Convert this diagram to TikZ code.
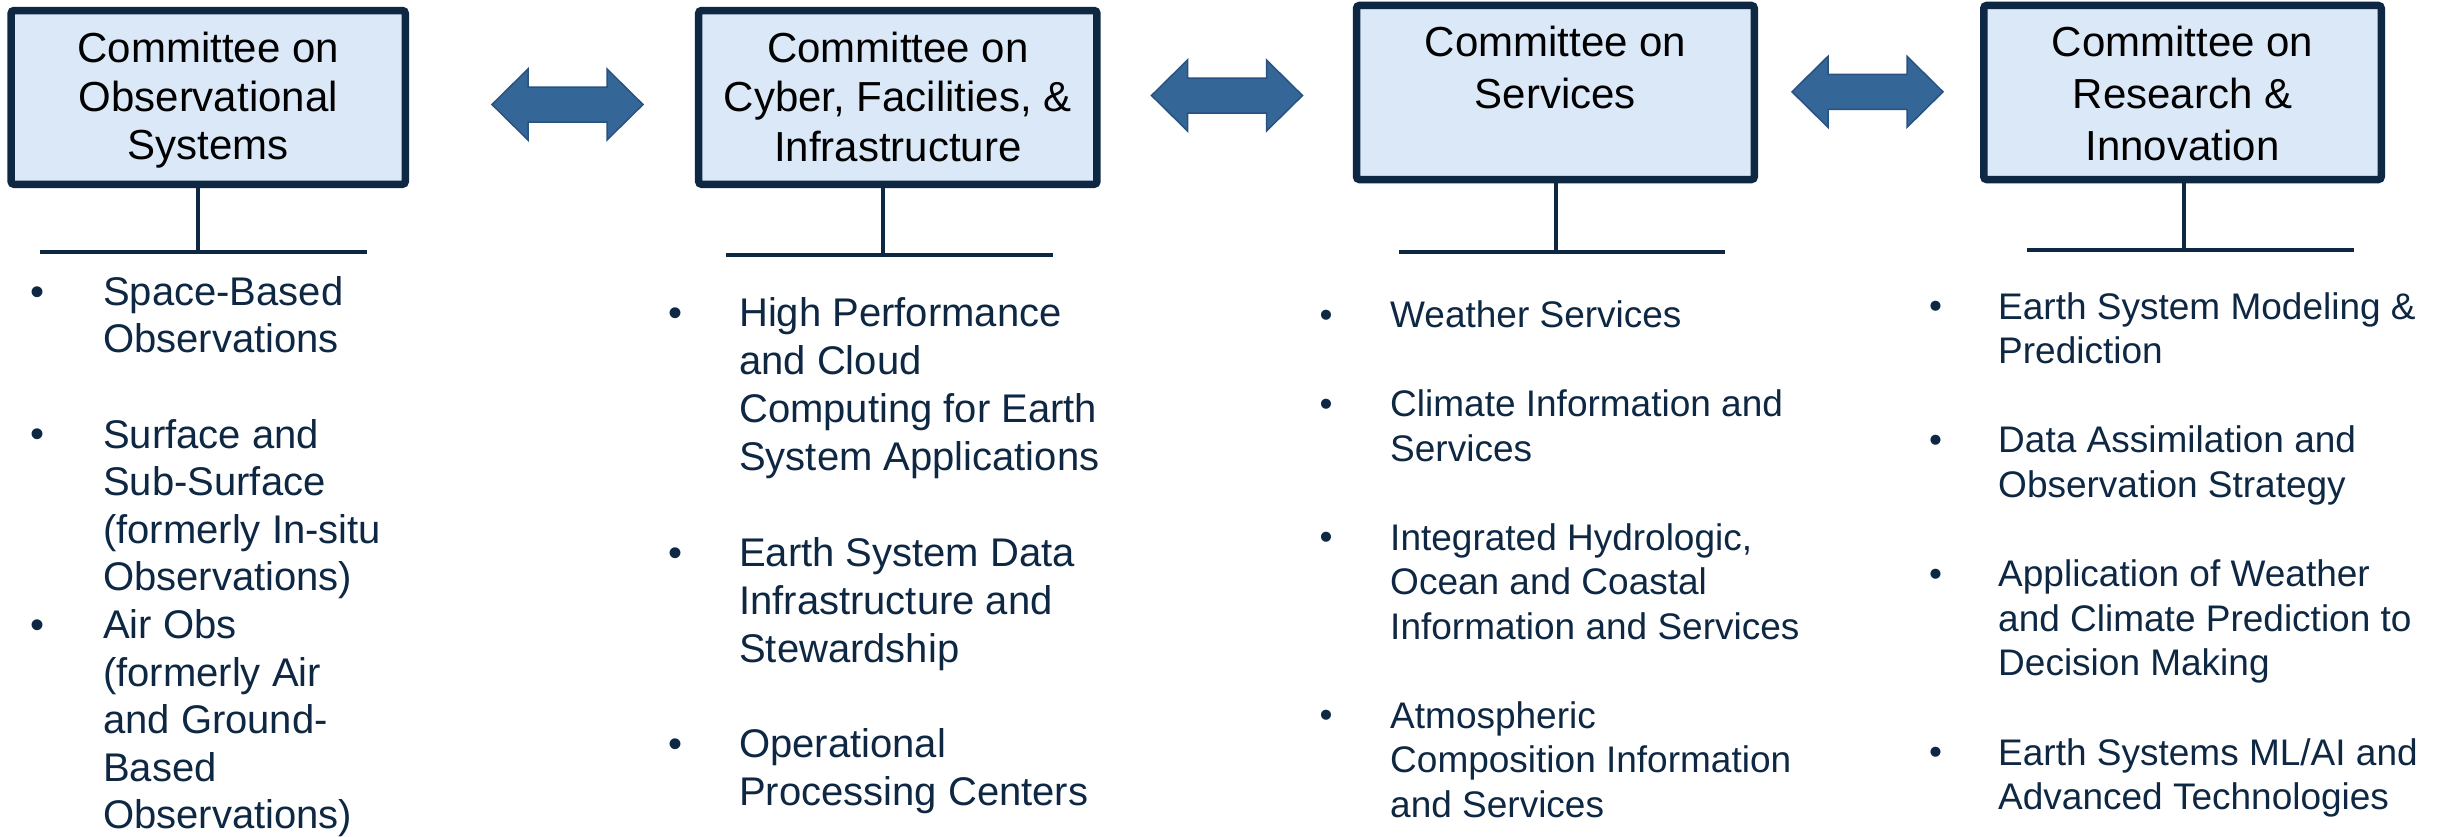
\documentclass[tikz,border=0pt]{standalone}
\usepackage{fontspec}
\setmainfont{Liberation Sans}
\definecolor{navy}{RGB}{14,40,68}
\definecolor{boxfill}{RGB}{218,232,247}
\definecolor{arrowfill}{RGB}{52,102,152}
\definecolor{arrowline}{RGB}{40,82,128}
\tikzset{
  cbox/.style={draw=navy, line width=7.5pt, fill=boxfill, rounded corners=3pt, inner sep=0pt},
  ttlA/.style={text=black, align=center, inner sep=0pt, anchor=north, font=\fontsize{42}{48.3}\selectfont},
  ttlB/.style={text=black, align=center, inner sep=0pt, anchor=north, font=\fontsize{42}{49.5}\selectfont},
  ttlC/.style={text=black, align=center, inner sep=0pt, anchor=north, font=\fontsize{42}{51.6}\selectfont},
  stemline/.style={draw=navy, line width=4pt},
  barline/.style={draw=navy, line width=4.3pt},
  bigitem/.style={text=navy, align=left, inner sep=0pt, anchor=north west, font=\fontsize{40}{47.6}\selectfont},
  biggitem/.style={text=navy, align=left, inner sep=0pt, anchor=north west, font=\fontsize{40}{47.9}\selectfont},
  smallitem/.style={text=navy, align=left, inner sep=0pt, anchor=north west, font=\fontsize{37}{44.5}\selectfont},
  smallitemb/.style={text=navy, align=left, inner sep=0pt, anchor=north west, font=\fontsize{37}{44.6}\selectfont},
  bigdot/.style={text=navy, inner sep=0pt, anchor=base, font=\fontsize{40}{48}\selectfont},
  smalldot/.style={text=navy, inner sep=0pt, anchor=base, font=\fontsize{37}{44}\selectfont},
  dblarrow/.pic={
    \path[fill=arrowfill, draw=arrowline, line width=1.5pt, line join=miter]
      (-75.5,0) -- (-39.5,-35.5) -- (-39.5,-17.5) -- (39.5,-17.5) -- (39.5,-35.5)
      -- (75.5,0) -- (39.5,35.5) -- (39.5,17.5) -- (-39.5,17.5) -- (-39.5,35.5) -- cycle;
  }
}
\begin{document}
\begin{tikzpicture}[x=1pt,y=-1pt]
\useasboundingbox[fill=white] (0,0) rectangle (2445,836);

% committee boxes
\node[cbox, minimum width=394.2pt, minimum height=173.8pt] (b1) at (208.2,97.4) {};
\node[cbox, minimum width=398.3pt, minimum height=173.8pt] (b2) at (897.8,97.4) {};
\node[cbox, minimum width=397.8pt, minimum height=174.1pt] (b3) at (1555.4,92.5) {};
\node[cbox, minimum width=397.5pt, minimum height=174.1pt] (b4) at (2182.5,92.5) {};

% titles
\node[ttlA] (t1) at (208.2,30.7) {\rule{0pt}{32pt}Committee on\\Observational\\Systems};
\node[ttlB] (t2) at (897.8,30.0) {\rule{0pt}{32pt}Committee on\\Cyber, Facilities, \&\\Infrastructure};
\node[ttlC] (t3) at (1555.4,24.7) {\rule{0pt}{32pt}Committee on\\Services};
\node[ttlC] (t4) at (2182.5,24.7) {\rule{0pt}{32pt}Committee on\\Research \&\\Innovation};

% double arrows between committees
\pic at (567.5,104.5) {dblarrow};
\pic at (1227,95.5) {dblarrow};
\pic at (1867.5,91.8) {dblarrow};

% stems and bars
\coordinate (h1) at (198,252);   \coordinate (l1) at (40,252);   \coordinate (r1) at (367,252);
\coordinate (h2) at (883,255);   \coordinate (l2) at (726,255);  \coordinate (r2) at (1053,255);
\coordinate (h3) at (1555.7,252);\coordinate (l3) at (1399,252); \coordinate (r3) at (1725,252);
\coordinate (h4) at (2184.3,250);\coordinate (l4) at (2027,250); \coordinate (r4) at (2354,250);
\draw[stemline] (b1.south -| h1) -- (h1);
\draw[stemline] (b2.south -| h2) -- (h2);
\draw[stemline] (b3.south -| h3) -- (h3);
\draw[stemline] (b4.south -| h4) -- (h4);
\draw[barline] (l1) -- (r1);
\draw[barline] (l2) -- (r2);
\draw[barline] (l3) -- (r3);
\draw[barline] (l4) -- (r4);

% column 1
\node[bigdot] (d11) at (38,305) {•};
\node[bigitem] (i11) at (103,273) {\rule{0pt}{32pt}Space-Based\\Observations};
\node[bigdot] (d12) at (38,447.8) {•};
\node[bigitem] (i12) at (103,415.8) {\rule{0pt}{32pt}Surface and\\Sub-Surface\\(formerly In-situ\\Observations)};
\node[bigdot] (d13) at (38,638.2) {•};
\node[bigitem] (i13) at (103,606.2) {\rule{0pt}{32pt}Air Obs\\(formerly Air\\and Ground-\\Based\\Observations)};

% column 2
\node[bigdot] (d21) at (675.7,326.5) {•};
\node[biggitem] (i21) at (739,294.5) {\rule{0pt}{32pt}High Performance\\and Cloud\\Computing for Earth\\System Applications};
\node[bigdot] (d22) at (675.7,566) {•};
\node[biggitem] (i22) at (739,534) {\rule{0pt}{32pt}Earth System Data\\Infrastructure and\\Stewardship};
\node[bigdot] (d23) at (675.7,757.6) {•};
\node[biggitem] (i23) at (739,725.6) {\rule{0pt}{32pt}Operational\\Processing Centers};

% column 3
\node[smalldot] (d31) at (1326,327.3) {•};
\node[smallitem] (i31) at (1390,297.3) {\rule{0pt}{30pt}Weather Services};
\node[smalldot] (d32) at (1326,416.3) {•};
\node[smallitem] (i32) at (1390,386.3) {\rule{0pt}{30pt}Climate Information and\\Services};
\node[smalldot] (d33) at (1326,549.8) {•};
\node[smallitem] (i33) at (1390,519.8) {\rule{0pt}{30pt}Integrated Hydrologic,\\Ocean and Coastal\\Information and Services};
\node[smalldot] (d34) at (1326,727.8) {•};
\node[smallitem] (i34) at (1390,697.8) {\rule{0pt}{30pt}Atmospheric\\Composition Information\\and Services};

% column 4
\node[smalldot] (d41) at (1935.6,318.8) {•};
\node[smallitemb] (i41) at (1998,288.8) {\rule{0pt}{30pt}Earth System Modeling \&\\Prediction};
\node[smalldot] (d42) at (1935.6,452.6) {•};
\node[smallitemb] (i42) at (1998,422.6) {\rule{0pt}{30pt}Data Assimilation and\\Observation Strategy};
\node[smalldot] (d43) at (1935.6,586.4) {•};
\node[smallitemb] (i43) at (1998,556.4) {\rule{0pt}{30pt}Application of Weather\\and Climate Prediction to\\Decision Making};
\node[smalldot] (d44) at (1935.6,764.8) {•};
\node[smallitemb] (i44) at (1998,734.8) {\rule{0pt}{30pt}Earth Systems ML/AI and\\Advanced Technologies};
\end{tikzpicture}
\end{document}
